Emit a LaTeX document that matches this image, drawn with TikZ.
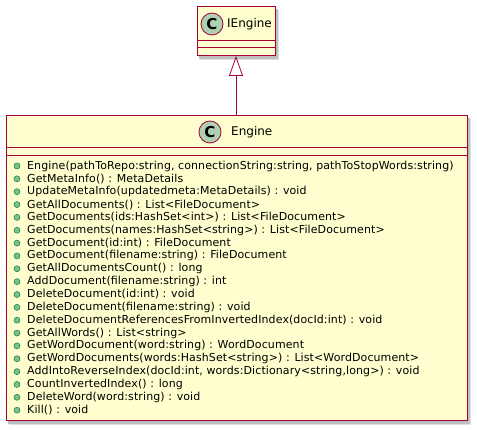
\documentclass[tikz,border=0pt]{standalone}
\usepackage{fontspec}
\setmainfont{DejaVu Sans}
\newfontfamily\memfont[LetterSpace=0.9]{DejaVu Sans}
\usetikzlibrary{arrows.meta}
\definecolor{umlfill}{HTML}{FEFECE}
\definecolor{umlborder}{HTML}{A80036}
\definecolor{circfill}{HTML}{ADD1B2}
\definecolor{dotfill}{HTML}{84BE84}
\definecolor{dotline}{HTML}{038048}
\tikzset{
  classbox/.style={draw=umlborder, fill=umlfill, line width=1pt, rectangle, inner sep=0pt},
  cmark/.style={circle, draw=umlborder, fill=circfill, line width=0.8pt, minimum size=22pt, inner sep=0pt, font=\fontsize{15}{15}\selectfont\bfseries},
  cname/.style={anchor=west, inner sep=0pt, font=\fontsize{12}{12}\selectfont},
  member/.style={anchor=west, inner sep=0pt, font=\memfont\fontsize{11}{12}\selectfont},
  memdot/.style={circle, draw=dotline, fill=dotfill, line width=0.5pt, minimum size=6pt, inner sep=0pt},
  sepline/.style={draw=umlborder, line width=1pt},
  inherit/.style={draw=umlborder, line width=0.8pt, -{Triangle[open, length=20pt, width=14pt, fill=white]}}
}
\begin{document}
\begin{tikzpicture}[x=1pt, y=-1pt]
\useasboundingbox (0,0) rectangle (477,430);
% shadows
\fill[black!12] (200,10) rectangle (279,60);
\fill[black!25] (199,9) rectangle (278,59);
\fill[black!12] (9,119) rectangle (471,425);
\fill[black!25] (8,118) rectangle (470,424);
% IEngine
\path[classbox] (197,7) rectangle (275,56);
\coordinate (ieS) at (236,56);
\node[cmark] (ieC) at (212,24) {C};
\node[cname] (ieN) at (227,24) {IEngine};
\draw[sepline] (197,41) -- (275,41);
\draw[sepline] (197,48) -- (275,48);
% Engine
\path[classbox] (6,116) rectangle (467,421);
\coordinate (enN) at (236,116);
\node[cmark] (enC) at (210,132) {C};
\node[cname] (enT) at (231,132) {Engine};
\draw[sepline] (6,148) -- (467,148);
\draw[sepline] (6,156) -- (467,156);
\foreach \t [count=\i] in {
  {Engine(pathToRepo:string, connectionString:string, pathToStopWords:string)},
  {GetMetaInfo() : MetaDetails},
  {UpdateMetaInfo(updatedmeta:MetaDetails) : void},
  {GetAllDocuments() : List<FileDocument>},
  {GetDocuments(ids:HashSet<int>) : List<FileDocument>},
  {GetDocuments(names:HashSet<string>) : List<FileDocument>},
  {GetDocument(id:int) : FileDocument},
  {GetDocument(filename:string) : FileDocument},
  {GetAllDocumentsCount() : long},
  {AddDocument(filename:string) : int},
  {DeleteDocument(id:int) : void},
  {DeleteDocument(filename:string) : void},
  {DeleteDocumentReferencesFromInvertedIndex(docId:int) : void},
  {GetAllWords() : List<string>},
  {GetWordDocument(word:string) : WordDocument},
  {GetWordDocuments(words:HashSet<string>) : List<WordDocument>},
  {AddIntoReverseIndex(docId:int, words:Dictionary<string,long>) : void},
  {CountInvertedIndex() : long},
  {DeleteWord(word:string) : void},
  {Kill() : void}
}{
  \node[memdot] (d\i) at (17,{166+(\i-1)*12.85}) {};
  \node[member] (m\i) at (27,{166+(\i-1)*12.85}) {\t};
}
% inheritance
\draw[inherit] (enN) -- (ieS);
\end{tikzpicture}
\end{document}
